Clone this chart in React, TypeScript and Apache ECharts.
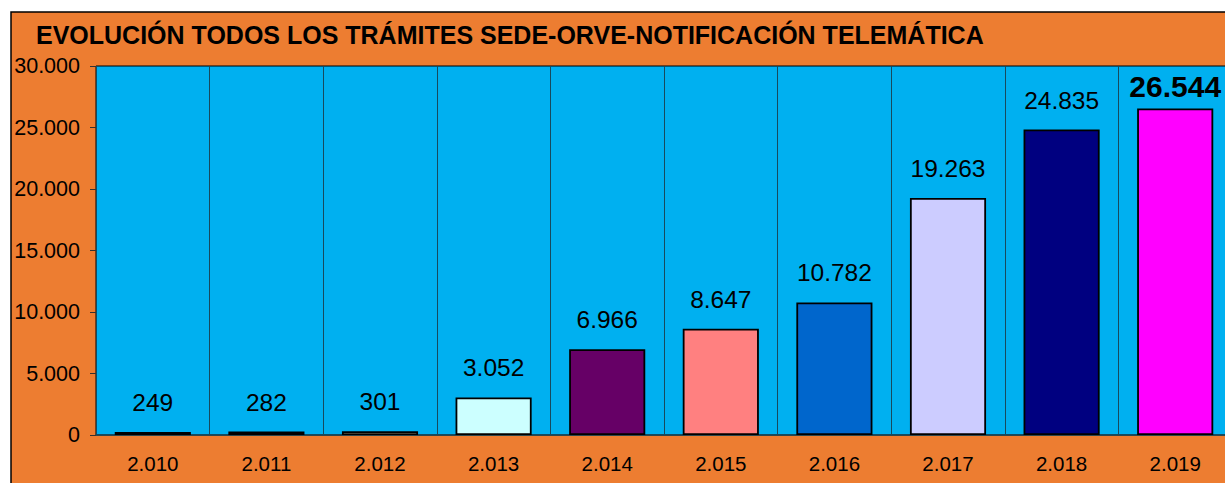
import React, { useEffect, useRef } from "react";
import * as echarts from "echarts";

const years = ["2.010", "2.011", "2.012", "2.013", "2.014", "2.015", "2.016", "2.017", "2.018", "2.019"];
const values = [249, 282, 301, 3052, 6966, 8647, 10782, 19263, 24835, 26544];
const barColors = ["#000000", "#993366", "#FFFFCC", "#CCFFFF", "#660066", "#FF8080", "#0066CC", "#CCCCFF", "#000080", "#FF00FF"];
const titleText = "EVOLUCIÓN TODOS LOS TRÁMITES SEDE-ORVE-NOTIFICACIÓN TELEMÁTICA";

const fmt = (v: number) => String(Math.round(v)).replace(/\B(?=(\d{3})+(?!\d))/g, ".");

export default function App() {
  const ref = useRef<HTMLDivElement>(null);
  useEffect(() => {
    document.body.style.margin = "0";
    document.body.style.overflow = "hidden";
    const chart = echarts.init(ref.current!, undefined, { renderer: "svg" });
    const font = "'Liberation Sans', Arial, sans-serif";
    chart.setOption({
      animation: false,
      backgroundColor: "#ffffff",
      graphic: [
        {
          type: "rect",
          z: -10,
          shape: { x: 11, y: 12, width: 1300, height: 600 },
          style: { fill: "#ED7D31", stroke: "#000000", lineWidth: 1.5 },
          silent: true,
        },
        {
          type: "text",
          x: 36,
          y: 35,
          style: {
            text: titleText,
            fill: "#000000",
            font: `bold 25px ${font}`,
            textVerticalAlign: "middle",
            textAlign: "left",
          },
        },
      ],
      grid: {
        left: 96,
        top: 66,
        right: 8,
        bottom: 48,
        show: true,
        backgroundColor: "#00B0F0",
        borderColor: "#000000",
        borderWidth: 1,
        z: 0,
      },
      xAxis: {
        type: "category",
        data: years,
        boundaryGap: true,
        axisLine: { show: true, lineStyle: { color: "#174a5e", width: 1.5 } },
        axisTick: { show: false },
        splitLine: { show: true, lineStyle: { color: "#174a5e", width: 1 } },
        axisLabel: { color: "#000000", fontSize: 20.5, fontFamily: font, margin: 18 },
      },
      yAxis: {
        type: "value",
        min: 0,
        max: 30000,
        interval: 5000,
        axisLine: { show: false },
        axisTick: { show: true, length: 6, lineStyle: { color: "#333333" } },
        splitLine: { show: false },
        axisLabel: {
          color: "#000000",
          fontSize: 21.5,
          fontFamily: font,
          margin: 16,
          formatter: (v: number) => fmt(v),
        },
      },
      series: [
        {
          type: "bar",
          barWidth: "67%",
          data: values.map((v, i) => ({
            value: v,
            itemStyle: { color: barColors[i], borderColor: "#000000", borderWidth: 1.8 },
            label:
              i === values.length - 1
                ? { fontSize: 30, fontWeight: "bold", distance: 7 }
                : undefined,
          })),
          label: {
            show: true,
            position: "top",
            distance: 17,
            color: "#000000",
            fontSize: 24.5,
            fontFamily: font,
            formatter: (p: any) => fmt(p.value),
          },
        },
      ],
    });
    return () => chart.dispose();
  }, []);
  return (
    <div style={{ position: "fixed", left: 0, top: 0, width: 1225, height: 483, overflow: "hidden" }}>
      <div ref={ref} style={{ width: 1240, height: 483 }} />
    </div>
  );
}
